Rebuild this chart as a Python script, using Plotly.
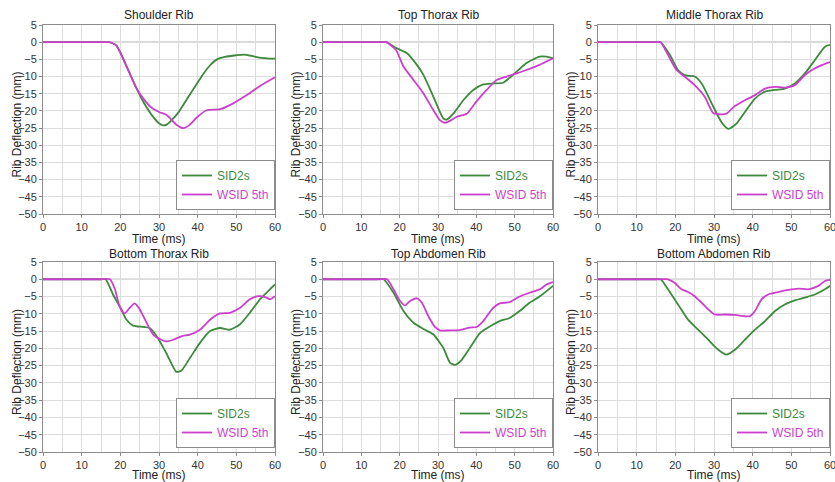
import plotly.graph_objects as go

W, H = 835, 482

titles = ["Shoulder Rib", "Top Thorax Rib", "Middle Thorax Rib",
          "Bottom Thorax Rib", "Top Abdomen Rib", "Bottom Abdomen Rib"]
series_names = ["SID2s", "WSID 5th"]
x_title = "Time (ms)"
y_title = "Rib Deflection (mm)"

# ---- Shoulder Rib ----
sh_g_t = [0, 10, 15, 17, 18, 19, 20, 22, 24, 26, 28, 30, 31, 32, 33, 35, 37, 39, 41, 43, 45, 47, 50, 52, 54, 56, 58, 60]
sh_g_v = [0, 0, 0, 0, -0.3, -1, -3, -8, -13, -17.5, -21, -23.6, -24.2, -24, -23, -20.5, -17, -13.5, -10, -7, -5, -4.3, -3.8, -3.6, -4, -4.5, -4.7, -4.8]
sh_m_t = [0, 10, 15, 17, 18, 19, 20, 22, 24, 26, 28, 30, 32, 33, 34.5, 36.3, 38, 39.7, 42.3, 45.8, 49.2, 52.7, 56, 60]
sh_m_v = [0, 0, 0, 0, -0.3, -1, -3, -8, -13, -16.5, -19, -20.3, -21.2, -22.3, -24, -25, -24, -22, -19.8, -19.5, -17.8, -15.4, -12.8, -10.2]

# ---- Top Thorax Rib ----
tt_g_t = [0, 10, 15, 16.5, 19.3, 21.9, 24.5, 26.2, 28.8, 31.4, 32.3, 34, 36.6, 39.2, 41.8, 44.4, 47, 49.6, 53, 56.5, 58.3, 60]
tt_g_v = [0, 0, 0, 0, -1.8, -3.2, -6.6, -9.5, -15.9, -22.2, -22.5, -20.8, -16.9, -13.9, -12.3, -12, -11.8, -9.5, -6.1, -4.2, -4.2, -4.7]
tt_m_t = [0, 10, 15, 16.5, 19, 21, 23.6, 26.2, 28.8, 30.5, 31.8, 33.1, 34.9, 37.5, 40, 42.7, 45.3, 47.9, 50.5, 53, 56.5, 60]
tt_m_v = [0, 0, 0, 0, -2.2, -7.1, -11, -14.9, -19.8, -22.7, -23.5, -22.9, -21.7, -20.8, -17.3, -13.9, -11, -10, -9.1, -8.1, -6.6, -4.7]

# ---- Middle Thorax Rib ----
mt_g_t = [0, 10, 15, 16.2, 18.6, 20.7, 22.4, 25, 26.8, 29.4, 31.9, 33.7, 35.8, 38, 40.6, 43.2, 45.8, 48.3, 50.9, 53.5, 56.1, 58.7, 60]
mt_g_v = [0, 0, 0, 0, -3.7, -8.1, -9.6, -10, -12, -17.8, -23.2, -25.2, -23.7, -20.3, -16.4, -14.4, -13.9, -13.5, -12, -9.1, -5.2, -1.3, -0.8]
mt_m_t = [0, 10, 15, 16.2, 18.1, 20.3, 22.4, 25, 27.6, 29.8, 31.9, 33.2, 35.4, 38, 40.6, 43.2, 45.8, 48.3, 50.9, 53.5, 56.1, 58.7, 60]
mt_m_v = [0, 0, 0, 0, -3.7, -8.1, -10, -12.5, -15.9, -20.6, -21, -20.8, -18.6, -16.9, -15.4, -13.5, -13, -13.2, -12.5, -9.6, -7.6, -6.3, -5.8]

# ---- Bottom Thorax Rib ----
bt_g_t = [0, 10, 15, 16.2, 18.1, 19.8, 21.6, 23.3, 25.9, 27.6, 29.4, 31.9, 34.5, 35.8, 38, 40.6, 43.2, 45.8, 48.3, 50.9, 53.5, 56.1, 58.7, 60]
bt_g_v = [0, 0, 0, 0, -4.4, -7.8, -11.7, -13.4, -13.8, -14.1, -16.5, -21.4, -26.8, -26.4, -22.8, -18.4, -15, -14.1, -14.6, -13.1, -9.7, -5.8, -2.9, -1.5]
bt_m_t = [0, 10, 15, 17.3, 18.6, 19.8, 21.1, 22.4, 23.7, 25, 26.8, 28.5, 30.2, 31.9, 33.7, 35.8, 38, 40.6, 43.2, 45.8, 48.3, 50.9, 53.5, 55.7, 57.8, 58.7, 60]
bt_m_v = [0, 0, 0, 0, -2.9, -7.8, -9.9, -8.3, -7, -8.7, -12.6, -16, -17.3, -18, -17.5, -16.5, -16, -14.6, -11.7, -9.9, -9.7, -8.3, -5.8, -4.9, -5.3, -5.8, -4.9]

# ---- Top Abdomen Rib ----
ta_g_t = [0, 10, 14, 15.8, 18.4, 21, 23.6, 26.2, 28.8, 31.4, 33.1, 34.4, 36.2, 38.3, 41, 43.6, 46.1, 48.7, 51.3, 53.9, 56.6, 60]
ta_g_v = [0, 0, 0, 0, -3.9, -9.2, -12.6, -14.4, -16, -19.9, -24.1, -24.8, -23.3, -19.9, -15.5, -13.6, -12.1, -11.2, -9.2, -6.8, -4.9, -1.9]
ta_m_t = [0, 10, 15, 16.7, 18.4, 20.1, 21.4, 22.7, 24.5, 25.8, 27.5, 29.2, 30.5, 33.1, 35.7, 38.3, 40.1, 41.8, 44.4, 46.1, 48.7, 51.3, 53.9, 56.6, 58.3, 60]
ta_m_v = [0, 0, 0, 0, -2.9, -6.3, -7.6, -6.3, -5.5, -6.8, -10.7, -13.8, -14.8, -14.8, -14.7, -14, -13.8, -12.1, -8.3, -7, -6.6, -5, -3.9, -2.9, -1.5, -0.8]

# ---- Bottom Abdomen Rib ----
ba_g_t = [0, 10, 15, 16.2, 18.1, 20.7, 23.3, 25.9, 28.5, 31.1, 33.2, 35.4, 38, 40.6, 43.2, 45.8, 48.3, 50.9, 53.5, 56.1, 58.7, 60]
ba_g_v = [0, 0, 0, 0, -2.9, -7.3, -11.7, -14.6, -17.5, -20.4, -21.8, -20.4, -17.5, -14.6, -12.1, -9.2, -7.3, -6.1, -5.3, -4.4, -2.9, -1.9]
ba_m_t = [0, 10, 16, 18.1, 19.8, 21.6, 23.3, 25, 26.8, 28.5, 30.2, 32.8, 35.4, 38, 39.3, 40.6, 42.3, 44, 46.6, 49.2, 51.8, 54.4, 57, 58.7, 60]
ba_m_v = [0, 0, 0, 0, -1, -2.9, -3.7, -4.9, -6.8, -8.7, -10.2, -10.2, -10.3, -10.7, -10.7, -9.2, -5.8, -4.4, -3.7, -3.1, -2.7, -2.9, -1.9, -0.5, -0.2]

green_t = [sh_g_t, tt_g_t, mt_g_t, bt_g_t, ta_g_t, ba_g_t]
green_v = [sh_g_v, tt_g_v, mt_g_v, bt_g_v, ta_g_v, ba_g_v]
mag_t = [sh_m_t, tt_m_t, mt_m_t, bt_m_t, ta_m_t, ba_m_t]
mag_v = [sh_m_v, tt_m_v, mt_m_v, bt_m_v, ta_m_v, ba_m_v]

GREEN = "#3C8A3C"
MAGENTA = "#CC3FCC"

x_dom_px = [(43, 275), (323, 553), (598, 830)]
y_dom_px = [(25, 214), (262, 452)]
title_y_px = [15, 254]
ytitle_x_px = [17, 296, 571]
xtitle_y_px = [239, 475]

fig = go.Figure()
FONT = "Liberation Sans, Arial, sans-serif"
TXT = dict(size=12, color="#222222", family=FONT)

for i in range(6):
    r, c = divmod(i, 3)
    xs = "" if i == 0 else str(i + 1)
    xa = "x" + xs
    ya = "y" + xs
    lg = "legend" + xs
    fig.add_trace(go.Scatter(x=green_t[i], y=green_v[i], mode="lines", line=dict(color=GREEN, width=1.8, shape="spline", smoothing=0.6),
                             name=f"<span style='color:{GREEN}'>{series_names[0]}</span>", xaxis=xa, yaxis=ya, legend=lg))
    fig.add_trace(go.Scatter(x=mag_t[i], y=mag_v[i], mode="lines", line=dict(color=MAGENTA, width=1.8, shape="spline", smoothing=0.6),
                             name=f"<span style='color:{MAGENTA}'>{series_names[1]}</span>", xaxis=xa, yaxis=ya, legend=lg))
    x0, x1 = x_dom_px[c]
    y0, y1 = y_dom_px[r]
    xd = [x0 / W, x1 / W]
    yd = [1 - y1 / H, 1 - y0 / H]
    common = dict(showgrid=True, gridcolor="#DCDCDC", gridwidth=1, showline=True, linecolor="#8C8C8C", linewidth=1,
                  mirror=True, ticks="outside", ticklen=3, tickcolor="#8C8C8C", automargin=False,
                  ticklabeloverflow="allow",
                  tickfont=dict(size=11, color="#333333", family=FONT), zeroline=False)
    fig.layout["xaxis" + xs] = dict(domain=xd, anchor=ya, range=[0, 60], dtick=10, tick0=0,
                                    minor=dict(dtick=5, showgrid=True, gridcolor="#DCDCDC", ticks=""),
                                    **common)
    fig.layout["yaxis" + xs] = dict(domain=yd, anchor=xa, range=[-50, 5], dtick=5, **common)
    fig.layout[lg] = dict(x=x1 / W, y=1 - (y1 - 4) / H, xanchor="right", yanchor="bottom",
                          bgcolor="white", bordercolor="#8C8C8C", borderwidth=1,
                          font=dict(size=12, family=FONT), tracegroupgap=0, itemwidth=30)
    fig.add_annotation(x=(x0 + x1) / 2 / W, y=1 - title_y_px[r] / H, xref="paper", yref="paper", text=titles[i],
                       showarrow=False, xanchor="center", yanchor="middle", font=TXT)
    fig.add_annotation(x=(x0 + x1) / 2 / W, y=1 - xtitle_y_px[r] / H, xref="paper", yref="paper", text=x_title,
                       showarrow=False, xanchor="center", yanchor="middle", font=TXT)
    fig.add_annotation(x=ytitle_x_px[c] / W, y=1 - ((y0 + y1) / 2 + 5) / H, xref="paper", yref="paper", text=y_title,
                       showarrow=False, textangle=-90, xanchor="center", yanchor="middle", font=TXT)
    fig.add_shape(type="line", xref=xa, yref=ya, x0=0, x1=60, y0=0, y1=0, line=dict(color="#8C8C8C", width=1), layer="below")

fig.update_layout(width=W, height=H, margin=dict(l=0, r=0, t=0, b=0, autoexpand=False), plot_bgcolor="white", paper_bgcolor="white",
                  showlegend=True)
fig.write_html("out.html", config={"displayModeBar": False},
               post_script="document.body.style.margin='0';document.body.style.overflow='hidden';")
